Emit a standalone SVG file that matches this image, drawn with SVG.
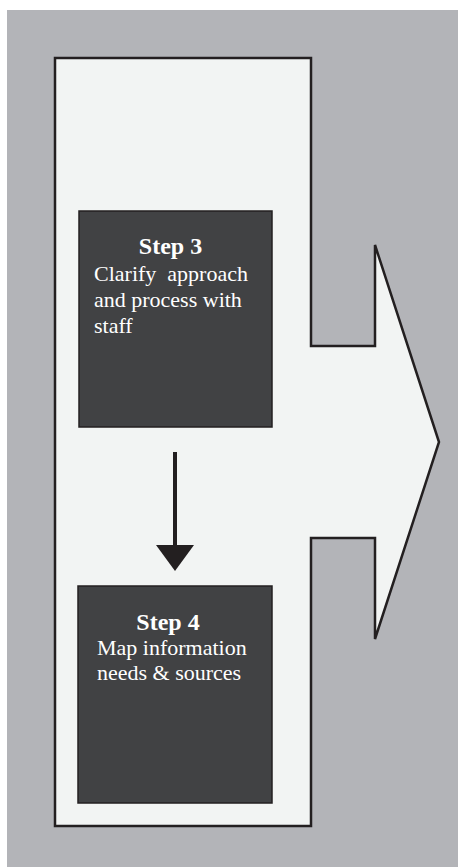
<svg xmlns="http://www.w3.org/2000/svg" width="458" height="867" viewBox="0 0 458 867">
<style>
.bg{fill:#b3b4b8}
.frame{fill:#f2f4f3;stroke:#231f20;stroke-width:2.5;stroke-linejoin:miter}
.box{fill:#414244;stroke:#231f20;stroke-width:1.5}
.t{font-family:"Liberation Serif","Times New Roman",serif;fill:#ffffff;font-size:22px}
.h{font-weight:bold;font-size:24px}
.conn{stroke:#231f20;stroke-width:4;fill:none}
.head{fill:#231f20}
</style>
<rect class="bg" x="7" y="10" width="451" height="857"/>
<g id="frame">
<path class="frame" d="M55,58 H311 V346 H375 V245 L439,442 L375,639 V538 H311 V826 H55 Z"/>
</g>
<g id="step3">
<rect class="box" x="79" y="211" width="193" height="216"/>
<text class="t h" x="170.5" y="254" text-anchor="middle">Step 3</text>
<text class="t" x="94" y="281" xml:space="preserve">Clarify  approach</text>
<text class="t" x="94" y="307">and process with</text>
<text class="t" x="94" y="333">staff</text>
</g>
<g id="step4">
<rect class="box" x="78" y="586" width="194" height="217"/>
<text class="t h" x="168" y="630" text-anchor="middle">Step 4</text>
<text class="t" x="97" y="655">Map information</text>
<text class="t" x="97" y="680">needs &amp; sources</text>
</g>
<g id="connectors">
<line class="conn" x1="175" y1="452" x2="175" y2="547"/>
<polygon class="head" points="156,545 194,545 175,571"/>
</g>
</svg>
